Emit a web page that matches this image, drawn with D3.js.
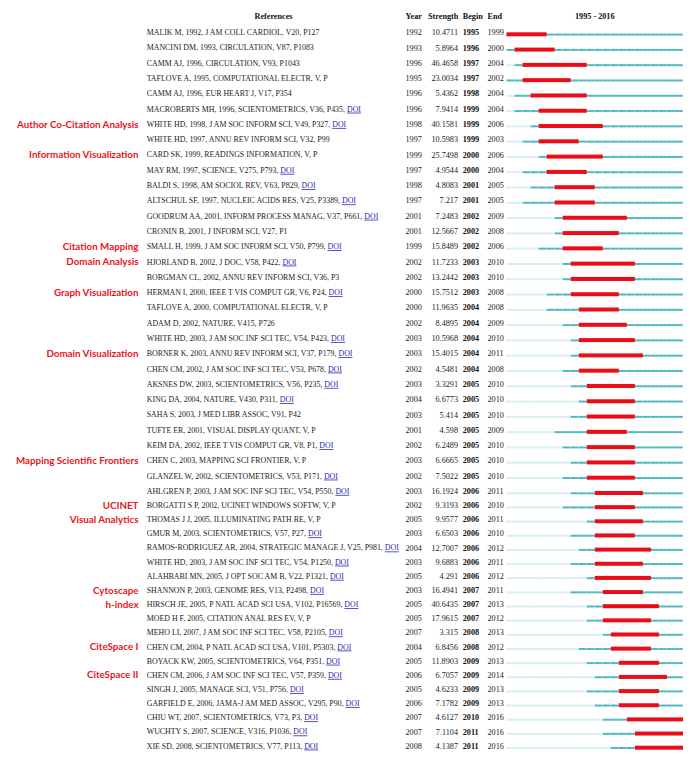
<!DOCTYPE html>
<html>
<head>
<meta charset="utf-8">
<script src="https://cdn.jsdelivr.net/npm/d3@7"></script>
<style>
  body { margin: 0; background: #fff; }
  svg text { font-family: "Liberation Serif", "Times New Roman", serif; }
</style>
</head>
<body>
<svg id="chart" width="694" height="761"></svg>
<script>
// cited references with the strongest citation bursts
var refs = [
  "MALIK M, 1992, J AM COLL CARDIOL, V20, P127",
  "MANCINI DM, 1993, CIRCULATION, V87, P1083",
  "CAMM AJ, 1996, CIRCULATION, V93, P1043",
  "TAFLOVE A, 1995, COMPUTATIONAL ELECTR, V, P",
  "CAMM AJ, 1996, EUR HEART J, V17, P354",
  "MACROBERTS MH, 1996, SCIENTOMETRICS, V36, P435",
  "WHITE HD, 1998, J AM SOC INFORM SCI, V49, P327",
  "WHITE HD, 1997, ANNU REV INFORM SCI, V32, P99",
  "CARD SK, 1999, READINGS INFORMATION, V, P",
  "MAY RM, 1997, SCIENCE, V275, P793",
  "BALDI S, 1998, AM SOCIOL REV, V63, P829",
  "ALTSCHUL SF, 1997, NUCLEIC ACIDS RES, V25, P3389",
  "GOODRUM AA, 2001, INFORM PROCESS MANAG, V37, P661",
  "CRONIN B, 2001, J INFORM SCI, V27, P1",
  "SMALL H, 1999, J AM SOC INFORM SCI, V50, P799",
  "HJORLAND B, 2002, J DOC, V58, P422",
  "BORGMAN CL, 2002, ANNU REV INFORM SCI, V36, P3",
  "HERMAN I, 2000, IEEE T VIS COMPUT GR, V6, P24",
  "TAFLOVE A, 2000, COMPUTATIONAL ELECTR, V, P",
  "ADAM D, 2002, NATURE, V415, P726",
  "WHITE HD, 2003, J AM SOC INF SCI TEC, V54, P423",
  "BORNER K, 2003, ANNU REV INFORM SCI, V37, P179",
  "CHEN CM, 2002, J AM SOC INF SCI TEC, V53, P678",
  "AKSNES DW, 2003, SCIENTOMETRICS, V56, P235",
  "KING DA, 2004, NATURE, V430, P311",
  "SAHA S, 2003, J MED LIBR ASSOC, V91, P42",
  "TUFTE ER, 2001, VISUAL DISPLAY QUANT, V, P",
  "KEIM DA, 2002, IEEE T VIS COMPUT GR, V8, P1",
  "CHEN C, 2003, MAPPING SCI FRONTIER, V, P",
  "GLANZEL W, 2002, SCIENTOMETRICS, V53, P171",
  "AHLGREN P, 2003, J AM SOC INF SCI TEC, V54, P550",
  "BORGATTI S P, 2002, UCINET WINDOWS SOFTW, V, P",
  "THOMAS J J, 2005, ILLUMINATING PATH RE, V, P",
  "GMUR M, 2003, SCIENTOMETRICS, V57, P27",
  "RAMOS-RODRIGUEZ AR, 2004, STRATEGIC MANAGE J, V25, P981",
  "WHITE HD, 2003, J AM SOC INF SCI TEC, V54, P1250",
  "ALAHBABI MN, 2005, J OPT SOC AM B, V22, P1321",
  "SHANNON P, 2003, GENOME RES, V13, P2498",
  "HIRSCH JE, 2005, P NATL ACAD SCI USA, V102, P16569",
  "MOED H F, 2005, CITATION ANAL RES EV, V, P",
  "MEHO LI, 2007, J AM SOC INF SCI TEC, V58, P2105",
  "CHEN CM, 2004, P NATL ACAD SCI USA, V101, P5303",
  "BOYACK KW, 2005, SCIENTOMETRICS, V64, P351",
  "CHEN CM, 2006, J AM SOC INF SCI TEC, V57, P359",
  "SINGH J, 2005, MANAGE SCI, V51, P756",
  "GARFIELD E, 2006, JAMA-J AM MED ASSOC, V295, P90",
  "CHIU WT, 2007, SCIENTOMETRICS, V73, P3",
  "WUCHTY S, 2007, SCIENCE, V316, P1036",
  "XIE SD, 2008, SCIENTOMETRICS, V77, P113"
];
var hasDoi = [0,0,0,0,0,1,1,0,0,1, 1,1,1,0,1,1,0,1,0,0, 1,1,1,1,1,0,0,1,0,1, 1,0,0,1,1,1,1,1,1,0, 1,1,1,1,1,1,1,1,1];
var years = [1992,1993,1996,1995,1996,1996,1998,1997,1999,1997, 1998,1997,2001,2001,1999,2002,2002,2000,2000,2002,
  2003,2003,2002,2003,2004,2003,2001,2002,2003,2002, 2003,2002,2005,2003,2004,2003,2005,2003,2005,2005,
  2007,2004,2005,2006,2005,2006,2007,2007,2008];
var strengths = ["10.4711","5.8964","46.4658","23.0034","5.4362","7.9414","40.1581","10.5983","25.7498","4.9544",
  "4.8083","7.217","7.2483","12.5667","15.8489","11.7233","13.2442","15.7512","11.9635","8.4895",
  "10.5968","15.4015","4.5481","3.3291","6.6773","5.414","4.598","6.2489","6.6665","7.5022",
  "16.1924","9.3193","9.9577","6.6503","12.7007","9.6883","4.291","16.4941","40.6435","17.9615",
  "3.315","6.8456","11.8903","6.7057","4.6233","7.1782","4.6127","7.1104","4.1387"];
var begins = [1995,1996,1997,1997,1998,1999,1999,1999,2000,2000, 2001,2001,2002,2002,2002,2003,2003,2003,2004,2004,
  2004,2004,2004,2005,2005,2005,2005,2005,2005,2005, 2006,2006,2006,2006,2006,2006,2006,2007,2007,2007,
  2008,2008,2009,2009,2009,2009,2010,2011,2011];
var ends = [1999,2000,2004,2002,2004,2004,2006,2003,2006,2004, 2005,2005,2009,2008,2006,2010,2010,2008,2008,2009,
  2010,2011,2008,2010,2010,2010,2009,2010,2010,2010, 2011,2010,2011,2010,2012,2011,2012,2011,2013,2012,
  2013,2012,2013,2014,2013,2013,2016,2016,2016];
// topic notes on the left, by row index
var notes = {6: "Author Co-Citation Analysis", 8: "Information Visualization", 14: "Citation Mapping",
  15: "Domain Analysis", 17: "Graph Visualization", 21: "Domain Visualization",
  28: "Mapping Scientific Frontiers", 31: "UCINET", 32: "Visual Analytics", 37: "Cytoscape",
  38: "h-index", 41: "CiteSpace I", 43: "CiteSpace II"};
var firstYear = 1995, lastYear = 2016;

var svg = d3.select('#chart');
var rows = d3.range(refs.length);
var allYears = d3.range(firstYear, lastYear + 1);

// the source picture is stitched from two pieces, rows are a bit tighter after row 30
var y = d3.scaleLinear().domain([0, 30, 48]).range([32.3, 491, 745.7]);
var x = d3.scaleLinear().domain([firstYear, lastYear + 1]).range([506.5, 683]);
var step = x(firstYear + 1) - x(firstYear);

var colTeal = '#4fb9c1', colLight = '#d8eef1', colRed = '#ec0c18';

// header
var head = svg.append('g').attr('font-weight', 'bold').attr('font-size', 8.2).attr('fill', '#111');
head.append('text').attr('x', 273.5).attr('y', 18.8).attr('text-anchor', 'middle').text('References');
head.append('text').attr('x', 405.5).attr('y', 18.8).text('Year');
head.append('text').attr('x', 428).attr('y', 18.8).text('Strength');
head.append('text').attr('x', 462.7).attr('y', 18.8).text('Begin');
head.append('text').attr('x', 487.5).attr('y', 18.8).text('End');
head.append('text').attr('x', (x.range()[0] + x.range()[1]) / 2).attr('y', 18.8)
  .attr('text-anchor', 'middle').text(firstYear + ' - ' + lastYear);

var row = svg.append('g').selectAll('g.row').data(rows).enter().append('g')
  .attr('class', 'row')
  .attr('transform', function(i) { return 'translate(0,' + y(i) + ')'; });

// topic notes
row.filter(function(i) { return notes[i]; }).append('text')
  .attr('x', 138.5).attr('dy', '0.36em')
  .attr('text-anchor', 'end')
  .style('font-family', 'Lato, "Open Sans", sans-serif')
  .attr('font-weight', 'bold').attr('font-size', 9.8).attr('fill', '#e8141c')
  .text(function(i) { return notes[i]; });

// reference text + DOI link
var refText = row.append('text').attr('x', 146.7).attr('dy', '0.36em')
  .attr('font-size', 7.9).attr('fill', '#222');
refText.append('tspan').text(function(i) { return refs[i] + (hasDoi[i] ? ', ' : ''); });
refText.filter(function(i) { return hasDoi[i]; }).append('tspan')
  .attr('fill', '#2a2ab0').style('text-decoration', 'underline').text('DOI');

row.append('text').attr('x', 405.5).attr('dy', '0.36em').attr('font-size', 8.2).attr('fill', '#222')
  .text(function(i) { return years[i]; });
row.append('text').attr('x', 458).attr('dy', '0.36em').attr('font-size', 8.2).attr('fill', '#222')
  .attr('text-anchor', 'end').text(function(i) { return strengths[i]; });
row.append('text').attr('x', 462.7).attr('dy', '0.36em').attr('font-size', 8.2).attr('fill', '#111')
  .attr('font-weight', 'bold').text(function(i) { return begins[i]; });
row.append('text').attr('x', 487.5).attr('dy', '0.36em').attr('font-size', 8.2).attr('fill', '#222')
  .text(function(i) { return ends[i]; });

// timeline: pale before publication, teal after, red during the burst
row.each(function(i) {
  var g = d3.select(this);
  g.selectAll('rect.yr').data(allYears).enter().append('rect')
    .attr('class', 'yr')
    .attr('x', function(yr) { return x(yr); })
    .attr('y', 1.3)
    .attr('width', step - 0.25)
    .attr('height', 2)
    .attr('fill', function(yr) { return yr < years[i] ? colLight : colTeal; });
  g.append('rect')
    .attr('x', x(begins[i]))
    .attr('y', 0)
    .attr('width', x(ends[i] + 1) - x(begins[i]))
    .attr('height', 4)
    .attr('fill', colRed);
});
</script>
</body>
</html>
